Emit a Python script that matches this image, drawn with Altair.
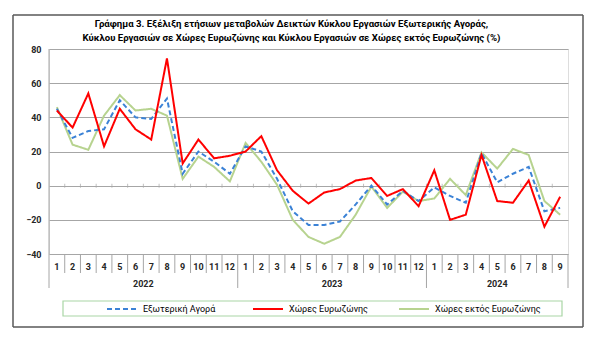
import altair as alt
import pandas as pd

FONT = "Roboto"

# ---------------- data ----------------
months = [1, 2, 3, 4, 5, 6, 7, 8, 9, 10, 11, 12,
          1, 2, 3, 4, 5, 6, 7, 8, 9, 10, 11, 12,
          1, 2, 3, 4, 5, 6, 7, 8, 9]
years = ["2022"] * 12 + ["2023"] * 12 + ["2024"] * 9
year_labels = ["2022", "2023", "2024"]

series_names = ["Εξωτερική Αγορά", "Χώρες Ευρωζώνης", "Χώρες εκτός Ευρωζώνης"]

exo = [45, 28, 32, 33, 50, 40, 39, 51, 7, 20, 14, 7,
       23, 20, 4, -15, -23, -23, -21, -11, 0, -11, -3, -9,
       -1, -6, -10, 19, 2, 7, 11, -15, -13]
euro = [44, 34, 54, 23, 45, 33, 27, 74.5, 13, 27, 16, 17.5,
        20, 29, 9, -3, -10.5, -4, -2, 3, 4.5, -6, -2, -12,
        9, -20, -17, 18, -9, -10, 3, -24, -6.5]
non_euro = [46, 24, 21, 41, 53, 44, 45, 41, 4, 17, 11, 2.5,
            25, 14, 0.5, -20, -30, -34, -30, -17, -0.5, -13, -3.5, -9,
            -7.5, 4, -5.5, 19.5, 10, 21.5, 18, -9, -17]

y_ticks = [-40, -20, 0, 20, 40, 60, 80]

title_lines = [
    "Γράφημα 3. Εξέλιξη  ετήσιων μεταβολών Δεικτών Κύκλου Εργασιών Εξωτερικής Αγοράς,",
    "Κύκλου Εργασιών σε Χώρες Ευρωζώνης και Κύκλου Εργασιών σε Χώρες εκτός Ευρωζώνης (%)",
]

colors = ["#3b82d6", "#ff0000", "#b7d38f"]
dashes = [[5, 3], [1, 0], [1, 0]]

# ---------------- tables ----------------
n = len(months)
series_values = dict(zip(series_names, [exo, euro, non_euro]))
draw_order = [series_names[2], series_names[0], series_names[1]]
rows = []
for name in draw_order:
    for i, v in enumerate(series_values[name]):
        rows.append({"series": name, "pos": i + 0.5, "value": v, "order": i})
df = pd.DataFrame(rows)

lab_df = pd.DataFrame({"pos": [i + 0.5 for i in range(n)],
                       "month": [str(m) for m in months]})

yr_rows = []
for y in year_labels:
    idx = [i for i, yy in enumerate(years) if yy == y]
    yr_rows.append({"pos": (idx[0] + idx[-1] + 1) / 2, "year": y})
yr_df = pd.DataFrame(yr_rows)

month_sep = [i for i in range(1, n) if years[i] == years[i - 1]]
year_sep = [i for i in range(1, n) if years[i] != years[i - 1]] + [n]
msep_df = pd.DataFrame({"pos": month_sep})
ysep_df = pd.DataFrame({"pos": year_sep})
zt_df = pd.DataFrame({"pos": list(range(1, n)), "zero": [0] * (n - 1)})
left_df = pd.DataFrame({"pos": [0]})
one = pd.DataFrame({"a": [0]})

x_scale = alt.Scale(domain=[0, n], nice=False, zero=False)
y_scale = alt.Scale(domain=[-40, 80], nice=False, zero=False)
GRID = "#a6a6a6"

y_axis = alt.Axis(values=y_ticks, grid=True, gridColor=GRID, gridWidth=1,
                  domain=False, ticks=False, labelFont=FONT, labelFontSize=9,
                  labelFontWeight="bold", labelColor="#262626",
                  labelPadding=8, title=None)

legend = alt.Legend(
    orient="none", legendX=57, legendY=244, direction="horizontal", columns=3,
    title=None, symbolType="stroke", symbolSize=900, symbolStrokeWidth=2,
    labelFont=FONT, labelFontSize=9, labelColor="black", labelOffset=5,
    gridAlign="all", columnPadding=0, padding=0,
)

lines = alt.Chart(df).mark_line(strokeWidth=2).encode(
    x=alt.X("pos:Q", scale=x_scale, axis=None),
    y=alt.Y("value:Q", scale=y_scale, axis=y_axis),
    color=alt.Color("series:N", scale=alt.Scale(domain=series_names, range=colors),
                    legend=legend),
    strokeDash=alt.StrokeDash("series:N",
                              scale=alt.Scale(domain=series_names, range=dashes),
                              legend=legend),
    order="order:Q",
)

zero_ticks = alt.Chart(zt_df).mark_tick(orient="vertical", size=4, thickness=1,
                                         color=GRID).encode(
    x=alt.X("pos:Q", scale=x_scale, axis=None),
    y=alt.Y("zero:Q", scale=y_scale, axis=y_axis))

msep = alt.Chart(msep_df).mark_rule(color=GRID, strokeWidth=1).encode(
    x=alt.X("pos:Q", scale=x_scale, axis=None), y=alt.value(205), y2=alt.value(224))
ysep = alt.Chart(ysep_df).mark_rule(color=GRID, strokeWidth=1).encode(
    x=alt.X("pos:Q", scale=x_scale, axis=None), y=alt.value(205), y2=alt.value(239))
left_line = alt.Chart(left_df).mark_rule(color=GRID, strokeWidth=1).encode(
    x=alt.X("pos:Q", scale=x_scale, axis=None), y=alt.value(0), y2=alt.value(239))

month_text = alt.Chart(lab_df).mark_text(font=FONT, fontSize=9, fontWeight="bold",
                                         color="#262626", baseline="middle").encode(
    x=alt.X("pos:Q", scale=x_scale, axis=None), y=alt.value(218), text="month:N")
year_text = alt.Chart(yr_df).mark_text(font=FONT, fontSize=9, fontWeight="bold",
                                       color="#262626", baseline="middle").encode(
    x=alt.X("pos:Q", scale=x_scale, axis=None), y=alt.value(235), text="year:N")

legend_box = alt.Chart(one).mark_rect(fill="white", fillOpacity=0, stroke="#a9d6a5",
                                      strokeWidth=1.2).encode(
    x=alt.value(14), x2=alt.value(513), y=alt.value(252), y2=alt.value(267))

# outer frame as four rules
FR = "#595959"
frame_top = alt.Chart(one).mark_rule(color=FR, strokeWidth=1.5).encode(
    x=alt.value(-36), x2=alt.value(534), y=alt.value(-34))
frame_bottom = alt.Chart(one).mark_rule(color=FR, strokeWidth=1.5).encode(
    x=alt.value(-36), x2=alt.value(534), y=alt.value(278))
frame_left = alt.Chart(one).mark_rule(color=FR, strokeWidth=1.5).encode(
    x=alt.value(-36), y=alt.value(-34), y2=alt.value(278))
frame_right = alt.Chart(one).mark_rule(color=FR, strokeWidth=1.5).encode(
    x=alt.value(534), y=alt.value(-34), y2=alt.value(278))

chart = alt.layer(
    frame_top, frame_bottom, frame_left, frame_right,
    legend_box, left_line, msep, ysep, zero_ticks,
    month_text, year_text, lines,
).properties(
    width=519, height=205,
    autosize=alt.AutoSizeParams(type="none"),
    padding={"left": 49, "top": 49, "right": 32, "bottom": 91},
    title=alt.TitleParams(text=title_lines, font=FONT, fontSize=9.6, fontWeight="bold",
                          color="black", anchor="middle", dx=-17, offset=-28,
                          lineHeight=14),
).configure_view(stroke=None).configure(background="white")

chart.save("out.html", embed_options={"renderer": "svg", "actions": False})
